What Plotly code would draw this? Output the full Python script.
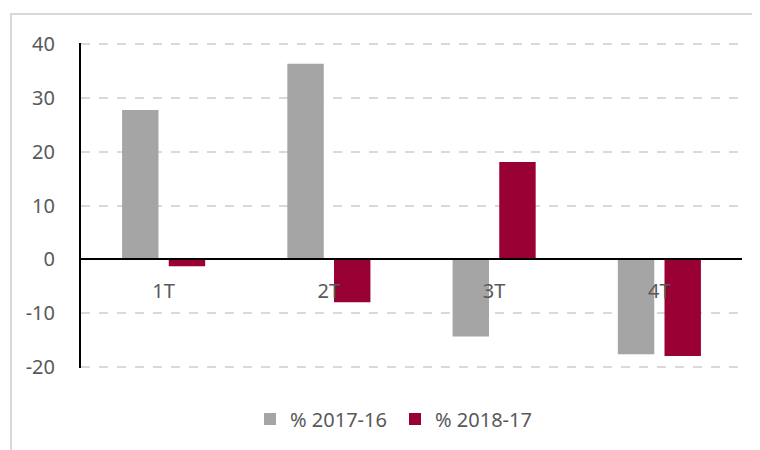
import plotly.graph_objects as go

categories = ["1T", "2T", "3T", "4T"]
series_2017_16 = [27.8, 36.4, -14.4, -17.7]
series_2018_17 = [-1.3, -8.0, 18.1, -18.0]
y_ticks = [-20, -10, 0, 10, 20, 30, 40]
y_tick_text = ["-20", "-10", "0", "10", "20", "30", "40"]

y_min, y_max = -20, 40
pad = 0.25
W, H = 760, 450
off = 8  # page body margin
ml, mt = 81 - off, 43 - off
pw, ph = 661, 325
mr, mb = W - ml - pw, H - mt - ph

font = "Noto Sans"
txt = "#595959"

fig = go.Figure()
fig.add_trace(go.Bar(x=categories, y=series_2017_16, name="% 2017-16",
                     marker=dict(color="#A5A5A5", line=dict(width=0))))
fig.add_trace(go.Bar(x=categories, y=series_2018_17, name="% 2018-17",
                     marker=dict(color="#990033", line=dict(width=0))))

zero_pos = (0 - (y_min - pad)) / ((y_max + pad) - (y_min - pad))

fig.update_layout(
    width=W, height=H,
    margin=dict(l=ml, r=mr, t=mt, b=mb, pad=0, autoexpand=False),
    paper_bgcolor="white", plot_bgcolor="white",
    barmode="group", bargap=0.435, bargroupgap=0.22,
    font=dict(family=font, size=20, color=txt),
    showlegend=True,
    legend=dict(orientation="h", x=(395 - off - ml) / pw, xanchor="center",
                y=-(419 - off - (mt + ph)) / ph, yanchor="middle",
                font=dict(size=20, color=txt), bgcolor="rgba(0,0,0,0)",
                itemwidth=30, entrywidth=100, entrywidthmode="pixels"),
    xaxis=dict(anchor="free", position=zero_pos, showline=True,
               linecolor="black", linewidth=2, showgrid=False,
               ticks="outside", ticklen=14, tickcolor="rgba(0,0,0,0)",
               tickfont=dict(size=20, color=txt), layer="above traces",
               automargin=False),
    yaxis=dict(range=[y_min - pad, y_max + pad], tickvals=y_ticks,
               ticktext=y_tick_text, showline=True,
               linecolor="black", linewidth=2, showgrid=True,
               gridcolor="#D9D9D9", griddash="dash", gridwidth=1.5,
               zeroline=True, zerolinecolor="black", zerolinewidth=2,
               ticks="", ticklabelstandoff=20, automargin=False,
               tickfont=dict(size=20, color=txt)),
    shapes=[dict(type="rect", xref="paper", yref="paper",
                 x0=(11 - off - ml) / pw, x1=(W + 40 - ml) / pw,
                 y0=-(H + 40 - (mt + ph)) / ph, y1=1 + (mt - (14 - off)) / ph,
                 line=dict(color="#D9D9D9", width=2), layer="below")],
)

fig.write_html("out.html")
